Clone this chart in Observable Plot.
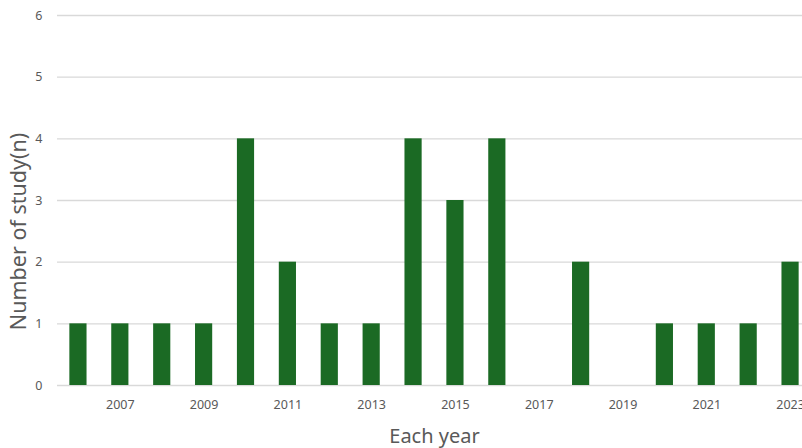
<!DOCTYPE html>
<html>
<head>
<meta charset="utf-8">
<script src="https://cdn.jsdelivr.net/npm/d3@7"></script>
<script src="https://cdn.jsdelivr.net/npm/@observablehq/plot@0.6"></script>
<style>
  html, body { margin: 0; padding: 0; background: #fff; overflow: hidden; }
  #chart svg { overflow: hidden; }
</style>
</head>
<body>
<div id="chart"></div>
<script>
const years = [2006, 2007, 2008, 2009, 2010, 2011, 2012, 2013, 2014, 2015, 2016, 2017, 2018, 2019, 2020, 2021, 2022, 2023];
const counts = [1, 1, 1, 1, 4, 2, 1, 1, 4, 3, 4, 0, 2, 0, 1, 1, 1, 2];
const xTickYears = [2007, 2009, 2011, 2013, 2015, 2017, 2019, 2021, 2023];
const yTicks = [0, 1, 2, 3, 4, 5, 6];
const xTitle = "Each year";
const yTitle = "Number of study(n)";

const data = years.map((y, i) => ({year: y, n: counts[i]}));
const font = "'Noto Sans', 'Open Sans', sans-serif";

const chart = Plot.plot({
  width: 802,
  height: 448,
  marginLeft: 57,
  marginRight: -9,
  marginTop: 15,
  marginBottom: 63,
  style: {fontFamily: font, background: "#fff", color: "#595959"},
  x: {type: "band", domain: years, paddingInner: 0.59, paddingOuter: 0.295, round: false, label: null},
  y: {domain: [0, 6], label: null},
  marks: [
    Plot.ruleY(yTicks, {stroke: "#d9d9d9", strokeWidth: 1.3}),
    Plot.barY(data, {x: "year", y: "n", fill: "#1b6a24"}),
    Plot.axisX({ticks: xTickYears, tickSize: 0, tickPadding: 15, fontSize: 12.5, fill: "#595959", tickFormat: d => String(d)}),
    Plot.axisY({ticks: yTicks, tickSize: 0, tickPadding: 15, fontSize: 12.5, fill: "#595959", tickFormat: d => String(d), label: null}),
    Plot.text([yTitle], {frameAnchor: "left", textAnchor: "middle", rotate: -90, dx: -38, dy: 31, fontSize: 21.5, fill: "#595959", fontFamily: font}),
    Plot.text([xTitle], {frameAnchor: "bottom", dy: 57, fontSize: 20, fill: "#595959", fontFamily: font})
  ]
});
document.getElementById("chart").appendChild(chart);
</script>
</body>
</html>
